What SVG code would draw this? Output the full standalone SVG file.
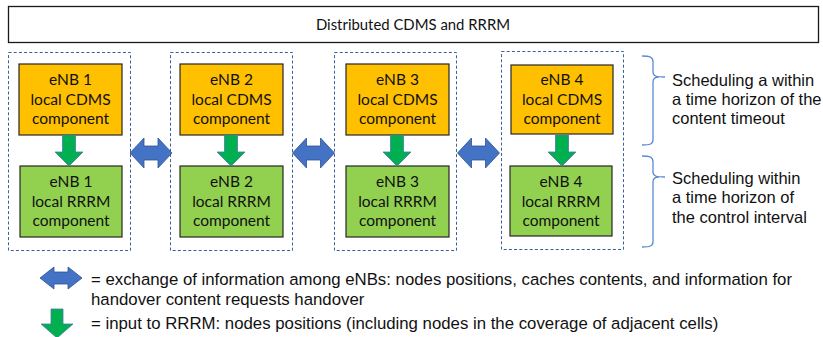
<svg xmlns="http://www.w3.org/2000/svg" xmlns:xlink="http://www.w3.org/1999/xlink" width="823" height="337" viewBox="0 0 823 337">
<style>
.title{fill:#fff;stroke:#1a1a1a;stroke-width:1.3}
.cell{fill:none;stroke:#3a5f9e;stroke-width:1;stroke-dasharray:3 2.2}
.cdms{fill:#FFC000;stroke:#262626;stroke-width:1.2}
.rrrm{fill:#92D050;stroke:#262626;stroke-width:1.2}
.bt{font-family:Lato,"Open Sans",sans-serif;font-size:15.5px;fill:#111;text-anchor:middle}
.tt{font-family:Lato,"Open Sans",sans-serif;font-size:14.9px;fill:#111;text-anchor:middle}
.rt{font-family:"Liberation Sans",Arial,sans-serif;font-size:16.5px;fill:#111}
.lt{font-family:"Liberation Sans",Arial,sans-serif;font-size:16.8px;fill:#111}
.ga{fill:#00B050;stroke:#4a7aa8;stroke-width:0.8}
.ba{fill:#4472C4;stroke:#2F528F;stroke-width:0.8}
.brace{fill:none;stroke:#5B8BD6;stroke-width:1.3}
</style>
<defs>
<path id="down" d="M-6.5,0 H6.5 V17 H14 L0,31 L-14,17 H-6.5 Z"/>
<path id="dbl" d="M-21,0 L-7,-15 L-7,-7 L7,-7 L7,-15 L21,0 L7,15 L7,7 L-7,7 L-7,15 Z"/>
</defs>
<g id="title">
<rect class="title" x="8.5" y="6.5" width="810" height="36"/>
<text class="tt" x="413" y="30">Distributed CDMS and RRRM</text>
</g>
<g id="cells">
<rect class="cell" x="8.5" y="52.5" width="122" height="198"/>
<rect class="cell" x="170.5" y="52.5" width="122" height="198"/>
<rect class="cell" x="334.5" y="52.5" width="122" height="198"/>
<rect class="cell" x="501.5" y="51.5" width="122" height="198"/>
</g>
<g id="cdms1"><rect class="cdms" x="19" y="64" width="103" height="71"/><text class="bt"><tspan x="70.5" y="85">eNB 1</tspan><tspan x="70.5" y="104.5">local CDMS</tspan><tspan x="70.5" y="124">component</tspan></text></g>
<g id="cdms2"><rect class="cdms" x="180" y="64" width="103" height="71"/><text class="bt"><tspan x="231.5" y="85">eNB 2</tspan><tspan x="231.5" y="104.5">local CDMS</tspan><tspan x="231.5" y="124">component</tspan></text></g>
<g id="cdms3"><rect class="cdms" x="346" y="64" width="103" height="71"/><text class="bt"><tspan x="397.5" y="85">eNB 3</tspan><tspan x="397.5" y="104.5">local CDMS</tspan><tspan x="397.5" y="124">component</tspan></text></g>
<g id="cdms4"><rect class="cdms" x="511" y="65" width="102" height="69"/><text class="bt"><tspan x="562" y="85">eNB 4</tspan><tspan x="562" y="104.5">local CDMS</tspan><tspan x="562" y="124">component</tspan></text></g>
<g id="rrrm1"><rect class="rrrm" x="20" y="166" width="102" height="71"/><text class="bt"><tspan x="71" y="187">eNB 1</tspan><tspan x="71" y="206.5">local RRRM</tspan><tspan x="71" y="226">component</tspan></text></g>
<g id="rrrm2"><rect class="rrrm" x="180" y="166" width="103" height="71"/><text class="bt"><tspan x="231.5" y="187">eNB 2</tspan><tspan x="231.5" y="206.5">local RRRM</tspan><tspan x="231.5" y="226">component</tspan></text></g>
<g id="rrrm3"><rect class="rrrm" x="346" y="166" width="103" height="71"/><text class="bt"><tspan x="397.5" y="187">eNB 3</tspan><tspan x="397.5" y="206.5">local RRRM</tspan><tspan x="397.5" y="226">component</tspan></text></g>
<g id="rrrm4"><rect class="rrrm" x="510" y="166" width="102" height="70"/><text class="bt"><tspan x="561" y="187">eNB 4</tspan><tspan x="561" y="206.5">local RRRM</tspan><tspan x="561" y="226">component</tspan></text></g>
<g id="connectors">
<use href="#down" class="ga" x="69" y="135"/>
<use href="#down" class="ga" x="231" y="135"/>
<use href="#down" class="ga" x="397" y="135"/>
<use href="#down" class="ga" x="562" y="135"/>
<use href="#dbl" class="ba" x="151" y="153"/>
<use href="#dbl" class="ba" x="313.5" y="153"/>
<use href="#dbl" class="ba" x="478.5" y="153"/>
</g>
<g id="brace1">
<path class="brace" d="M642,56 C650,56 653,57 653,62 L653,72 C653,76 656,77 665,77 M659,77 C656,77 653,78 653,82 L653,140 C653,144 650,145 642,145"/>
<text class="rt"><tspan x="672" y="86">Scheduling a within</tspan><tspan x="672" y="105">a time horizon of the</tspan><tspan x="672" y="124">content timeout</tspan></text>
</g>
<g id="brace2">
<path class="brace" d="M642,156 C650,156 653,157 653,162 L653,172 C653,176 656,177 665,177 M659,177 C656,177 653,178 653,182 L653,242 C653,246 650,247 642,247"/>
<text class="rt"><tspan x="672" y="184">Scheduling within</tspan><tspan x="672" y="203">a time horizon of</tspan><tspan x="672" y="223">the control interval</tspan></text>
</g>
<g id="legend">
<path class="ba" d="M40,278 L54,267 L54,272 L68,272 L68,267 L82,278 L68,289 L68,284 L54,284 L54,289 Z"/>
<text class="lt"><tspan x="91" y="285">= exchange of information among eNBs: nodes positions, caches contents,  and information for</tspan><tspan x="91" y="305">handover content requests handover</tspan></text>
<path class="ga" d="M51,309 H63 V324 H73 L57,338 L41,324 H51 Z"/>
<text class="lt" x="91" y="329">= input to RRRM: nodes positions (including nodes in the coverage of adjacent cells)</text>
</g>
</svg>
